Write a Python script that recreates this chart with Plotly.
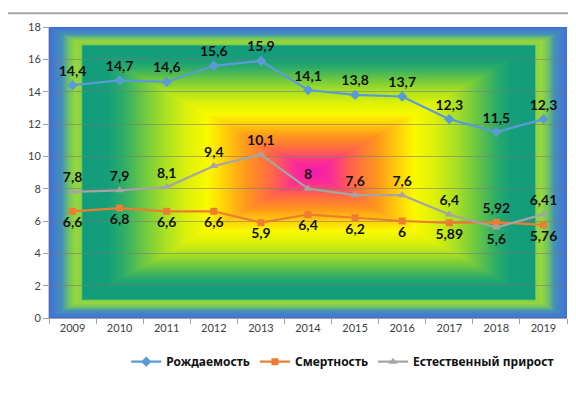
import base64
import struct
import zlib

import plotly.graph_objects as go

# ---------------- data ----------------
years = ["2009", "2010", "2011", "2012", "2013", "2014", "2015", "2016", "2017", "2018", "2019"]
births = [14.4, 14.7, 14.6, 15.6, 15.9, 14.1, 13.8, 13.7, 12.3, 11.5, 12.3]
deaths = [6.6, 6.8, 6.6, 6.6, 5.9, 6.4, 6.2, 6.0, 5.89, 5.92, 5.76]
natural = [7.8, 7.9, 8.1, 9.4, 10.1, 8.0, 7.6, 7.6, 6.4, 5.6, 6.41]
series_names = ["Рождаемость", "Смертность", "Естественный прирост"]


def fmt(v):
    return f"{v:g}".replace(".", ",")


# ---------------- background gradient (rectangular path gradient) ----------------
stops = [
    (0.00, (245, 25, 175)),
    (0.07, (250, 45, 150)),
    (0.15, (255, 100, 75)),
    (0.25, (255, 150, 30)),
    (0.33, (255, 205, 10)),
    (0.40, (250, 250, 0)),
    (0.48, (220, 240, 10)),
    (0.56, (170, 225, 35)),
    (0.64, (110, 200, 65)),
    (0.72, (45, 172, 105)),
    (0.78, (20, 158, 122)),
    (0.872, (18, 156, 124)),
    (0.878, (140, 210, 70)),
    (0.90, (150, 215, 60)),
    (0.925, (110, 195, 100)),
    (0.95, (70, 145, 185)),
    (1.00, (65, 110, 215)),
]


def color_at(d):
    d = min(max(d, 0.0), 1.0)
    for (d0, c0), (d1, c1) in zip(stops[:-1], stops[1:]):
        if d <= d1:
            t = 0 if d1 == d0 else (d - d0) / (d1 - d0)
            return bytes(int(round(a + (b - a) * t)) for a, b in zip(c0, c1))
    return bytes(stops[-1][1])


W, H = 518, 295
cx, cy = 0.51 * W, 0.5 * H
dxs = [abs(i + 0.5 - cx) / cx if i + 0.5 < cx else abs(i + 0.5 - cx) / (W - cx) for i in range(W)]
dys = [abs(j + 0.5 - cy) / (H / 2) for j in range(H)]
raw = bytearray()
for j in range(H):
    raw.append(0)
    dy = dys[j]
    for i in range(W):
        raw += color_at(max(dxs[i], dy))


def chunk(tag, data):
    c = struct.pack(">I", len(data)) + tag + data
    return c + struct.pack(">I", zlib.crc32(tag + data) & 0xFFFFFFFF)


png = b"\x89PNG\r\n\x1a\n" + chunk(b"IHDR", struct.pack(">IIBBBBB", W, H, 8, 2, 0, 0, 0)) \
    + chunk(b"IDAT", zlib.compress(bytes(raw), 9)) + chunk(b"IEND", b"")
bg_uri = "data:image/png;base64," + base64.b64encode(png).decode()

# ---------------- figure ----------------
label_font = dict(family="Lato, 'Open Sans', sans-serif", size=14, color="#111111", weight="bold")

deaths_pos = ["top center" if years[i] == "2018" else "bottom center" for i in range(len(years))]
natural_pos = ["bottom center" if years[i] == "2018" else "top center" for i in range(len(years))]

fig = go.Figure()
fig.add_trace(go.Scatter(
    x=years, y=births, name=series_names[0], mode="lines+markers+text",
    line=dict(color="#5b9bd5", width=2.2),
    marker=dict(symbol="diamond", size=8, color="#5b9bd5"),
    text=[fmt(v) for v in births], textposition="top center", textfont=label_font,
))
fig.add_trace(go.Scatter(
    x=years, y=deaths, name=series_names[1], mode="lines+markers+text",
    line=dict(color="#ed7d31", width=2.2),
    marker=dict(symbol="square", size=7, color="#ed7d31"),
    text=[fmt(v) for v in deaths], textposition=deaths_pos, textfont=label_font,
))
fig.add_trace(go.Scatter(
    x=years, y=natural, name=series_names[2], mode="lines+markers+text",
    line=dict(color="#a5a5a5", width=2.2),
    marker=dict(symbol="triangle-up", size=8, color="#a5a5a5"),
    text=[fmt(v) for v in natural], textposition=natural_pos, textfont=label_font,
))

fig.add_layout_image(dict(
    source=bg_uri, xref="x domain", yref="y domain", x=0, y=1, sizex=1, sizey=1,
    xanchor="left", yanchor="top", sizing="stretch", layer="below",
))

fig.add_shape(type="line", xref="paper", yref="paper", x0=-0.2, x1=1.2,
              y0=1.047, y1=1.047, line=dict(color="#a6a6a6", width=2))

tick_font = dict(family="Lato, 'Open Sans', sans-serif", size=11, color="#404040")

fig.update_xaxes(
    type="category", tickson="boundaries", ticks="outside", ticklen=5, tickcolor="#a0a0a0",
    showgrid=False, showline=True, linecolor="#a0a0a0", linewidth=1,
    tickfont=tick_font, range=[-0.5, 10.5],
)
fig.update_yaxes(
    range=[0, 18], dtick=2, ticks="outside", ticklen=5, tickcolor="#a0a0a0",
    showgrid=True, gridcolor="rgba(120,120,120,0.55)", gridwidth=1,
    showline=True, linecolor="#c8c8c8", zeroline=False, tickfont=tick_font,
)

fig.update_layout(
    width=576, height=393,
    margin=dict(l=41, r=17, t=15, b=83),
    paper_bgcolor="white", plot_bgcolor="rgba(0,0,0,0)",
    showlegend=True,
    legend=dict(
        orientation="h", x=0.985, xanchor="right", y=-0.15, yanchor="middle",
        font=dict(family="'Noto Sans', 'Open Sans', sans-serif", size=12, color="#111111", weight="bold"),
        itemwidth=30, bgcolor="rgba(0,0,0,0)",
    ),
)

fig.write_html("out.html")
